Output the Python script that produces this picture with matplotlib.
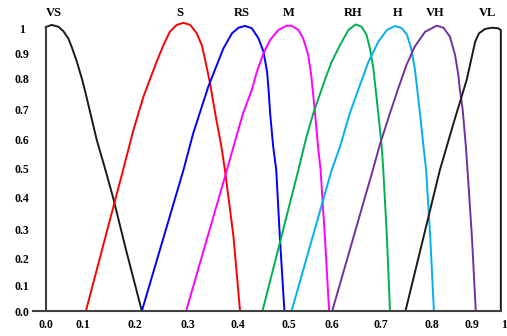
import matplotlib
matplotlib.use("Agg")
import matplotlib.pyplot as plt
import numpy as np

# membership curves (x value, membership)
vs_x = [0.0, 0.003, 0.016, 0.034, 0.047, 0.060, 0.069, 0.083, 0.096, 0.103,
        0.126, 0.142, 0.158, 0.181, 0.213]
vs_y = [1.005, 1.007, 1.014, 1.007, 0.990, 0.962, 0.929, 0.868, 0.800, 0.763,
        0.597, 0.500, 0.397, 0.240, 0.0]

s_x = [0.105, 0.177, 0.197, 0.216, 0.228, 0.241, 0.254, 0.266, 0.279, 0.292,
       0.305, 0.318, 0.328, 0.334, 0.341, 0.344, 0.357, 0.367, 0.374, 0.391, 0.404]
s_y = [0.0, 0.495, 0.631, 0.742, 0.795, 0.868, 0.935, 0.987, 1.014, 1.022,
       1.014, 0.981, 0.935, 0.882, 0.814, 0.788, 0.666, 0.574, 0.495, 0.274, 0.0]

rs_x = [0.213, 0.292, 0.311, 0.341, 0.358, 0.371, 0.388, 0.401, 0.414, 0.427,
        0.440, 0.450, 0.457, 0.460, 0.463, 0.469, 0.475, 0.482, 0.491]
rs_y = [0.0, 0.495, 0.620, 0.774, 0.855, 0.922, 0.981, 1.003, 1.010, 1.001,
        0.962, 0.909, 0.827, 0.763, 0.689, 0.574, 0.495, 0.274, 0.0]

m_x = [0.297, 0.378, 0.391, 0.410, 0.427, 0.437, 0.450, 0.463, 0.479, 0.495,
       0.506, 0.522, 0.533, 0.545, 0.552, 0.561, 0.568, 0.574, 0.584, 0.594]
m_y = [0.0, 0.495, 0.574, 0.689, 0.763, 0.827, 0.903, 0.955, 0.994, 1.011,
       1.011, 0.994, 0.962, 0.896, 0.814, 0.689, 0.574, 0.495, 0.274, 0.0]

rh_x = [0.448, 0.522, 0.541, 0.557, 0.584, 0.600, 0.617, 0.634, 0.649, 0.661,
        0.671, 0.678, 0.685, 0.695, 0.702, 0.705, 0.712, 0.718]
rh_y = [0.0, 0.495, 0.608, 0.689, 0.795, 0.868, 0.935, 0.994, 1.016, 1.007,
        0.975, 0.922, 0.841, 0.689, 0.574, 0.495, 0.274, 0.0]

h_x = [0.506, 0.600, 0.617, 0.637, 0.654, 0.675, 0.695, 0.712, 0.728, 0.741,
       0.751, 0.759, 0.766, 0.771, 0.776, 0.783, 0.788, 0.796, 0.804]
h_y = [0.0, 0.495, 0.574, 0.689, 0.763, 0.868, 0.948, 0.994, 1.010, 1.001,
       0.975, 0.922, 0.841, 0.763, 0.689, 0.574, 0.495, 0.274, 0.0]

vh_x = [0.601, 0.684, 0.699, 0.718, 0.734, 0.750, 0.766, 0.786, 0.811, 0.828,
        0.844, 0.857, 0.865, 0.869, 0.876, 0.884, 0.888, 0.899, 0.911]
vh_y = [0.0, 0.495, 0.585, 0.689, 0.768, 0.855, 0.929, 0.987, 1.011, 1.003,
        0.968, 0.896, 0.814, 0.763, 0.700, 0.574, 0.495, 0.274, 0.0]

vl_x = [0.748, 0.819, 0.853, 0.886, 0.909, 0.921, 0.940, 0.961, 0.981,
        0.990, 0.990]
vl_y = [0.0, 0.495, 0.654, 0.795, 0.948, 0.981, 0.998, 1.003, 1.001,
        0.994, 0.0]

names = ["VS", "S", "RS", "M", "RH", "H", "VH", "VL"]
name_x = [0.023, 0.285, 0.407, 0.499, 0.643, 0.733, 0.807, 0.947]
colors = ["#1a1a1a", "#ff0000", "#0000ff", "#ff00ff", "#00b050", "#00b0f0",
          "#7030a0", "#1a1a1a"]

tick_vals = [0.0, 0.1, 0.2, 0.3, 0.4, 0.5, 0.6, 0.7, 0.8, 0.9, 1.0]
x_labels = ["0.0", "0.1", "0.2", "0.3", "0.4", "0.5", "0.6", "0.7", "0.8", "0.9", "1"]
y_labels = ["0.0", "0.1", "0.2", "0.3", "0.4", "0.5", "0.6", "0.7", "0.8", "0.9", "1"]

# the ticks in the original are not evenly spaced, so use a piecewise scale
x_tick_px = [45.5, 83.3, 135, 187.7, 238, 289, 331.7, 380.7, 432.3, 472.3, 504]
y_tick_px = [0, 26, 52.7, 82, 113.7, 142.5, 172, 201, 232.7, 257, 282.5]


def piecewise(vals, pos):
    vals = np.asarray(vals, float)
    pos = np.asarray(pos, float)
    s0 = (pos[1] - pos[0]) / (vals[1] - vals[0])
    s1 = (pos[-1] - pos[-2]) / (vals[-1] - vals[-2])
    v = np.r_[vals[0] - 1, vals, vals[-1] + 1]
    p = np.r_[pos[0] - s0, pos, pos[-1] + s1]
    return (lambda a: np.interp(a, v, p)), (lambda a: np.interp(a, p, v))


xf, xi = piecewise(tick_vals, x_tick_px)
yf, yi = piecewise(tick_vals, y_tick_px)

fig = plt.figure(figsize=(5.07, 3.36), dpi=100)
ax = fig.add_axes([45.5 / 507, 25 / 336, (505 - 45.5) / 507, 293 / 336])
ax.set_xscale("function", functions=(xf, xi))
ax.set_yscale("function", functions=(yf, yi))

curves = [(vs_x, vs_y), (s_x, s_y), (rs_x, rs_y), (m_x, m_y),
          (rh_x, rh_y), (h_x, h_y), (vh_x, vh_y), (vl_x, vl_y)]
for (cx, cy), c in zip(curves, colors):
    ax.plot(cx, cy, color=c, lw=1.4, clip_on=False,
            solid_joinstyle="round", solid_capstyle="round")

ax.set_xlim(0, float(xi(505)))
ax.set_ylim(0, float(yi(293)))

serif = dict(family="Liberation Serif", weight="bold")
for n, nx in zip(names, name_x):
    ax.text(nx, 1.06, n, ha="center", va="center", fontsize=9, clip_on=False, **serif)

ax.set_xticks(tick_vals)
ax.set_xticklabels(x_labels, fontsize=8.5, **serif)
ax.set_yticks(tick_vals)
ax.set_yticklabels(y_labels, fontsize=8.5, ha="center", **serif)
ax.xaxis.set_minor_locator(plt.NullLocator())
ax.yaxis.set_minor_locator(plt.NullLocator())
ax.tick_params(axis="x", length=0, pad=5.5)
ax.tick_params(axis="y", length=0, pad=17)

for side in ["top", "right"]:
    ax.spines[side].set_visible(False)
for side in ["left", "bottom"]:
    ax.spines[side].set_color("#404040")
    ax.spines[side].set_linewidth(1.5)
ax.spines["left"].set_bounds(0, 1.005)
ax.spines["bottom"].set_bounds(-0.033, 0.99)

fig.savefig("out.png", dpi=100)
